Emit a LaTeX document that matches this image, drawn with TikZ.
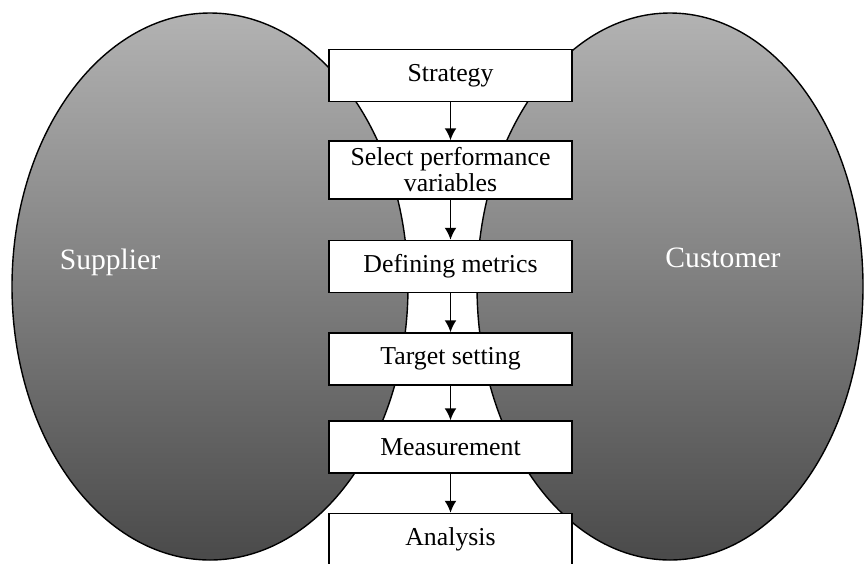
\documentclass[tikz,border=0pt]{standalone}
\usepackage{fontspec}
\setmainfont{Liberation Serif}
\usetikzlibrary{arrows.meta}
\tikzset{>={Latex[length=6pt,width=6pt]}}
\definecolor{ovaltop}{gray}{0.70}
\definecolor{ovalbot}{gray}{0.29}

\begin{document}
\begin{tikzpicture}[x=0.5pt, y=-0.5pt,
                    oval/.style={draw=black, line width=0.7pt,
                                 top color=ovaltop, bottom color=ovalbot},
                    side/.style={white, font=\fontsize{14.8}{16}\selectfont},
                    stage/.style={draw, fill=white, line width=0.75pt, inner sep=0pt,
                                  minimum width=121.5pt, minimum height=26pt, align=center,
                                  font=\fontsize{12.9}{13}\selectfont},
                    flow/.style={->, line width=0.9pt}]
  \useasboundingbox (0,0) rectangle (865,563);
  \def\xStage{450.5}

  % SUPPLIER AND CUSTOMER
  \draw[oval] (210,286.5) ellipse [x radius=99pt, y radius=136.75pt];
  \draw[oval] (670,286.5) ellipse [x radius=96.5pt, y radius=136.75pt];
  \node[side] (supplier) at (110,262) {Supplier};
  \node[side] (customer) at (723,258) {Customer};

  % STAGES
  \node[stage] (strategy) at (\xStage,75.5) {Strategy};
  \node[stage, minimum height=29pt] (select) at (\xStage,170) {Select performance\\variables};
  \node[stage] (metrics)  at (\xStage,266.5) {Defining metrics};
  \node[stage] (target)   at (\xStage,359) {Target setting};
  \node[stage] (measure)  at (\xStage,447) {Measurement};
  \node[stage] (analysis) at (\xStage,539.5) {Analysis};

  % arrows between stages
  \foreach \a/\b in {strategy/select, select/metrics, metrics/target,
                     target/measure, measure/analysis}
    \draw[flow] (\a) -- (\b);

\end{tikzpicture}
\end{document}
